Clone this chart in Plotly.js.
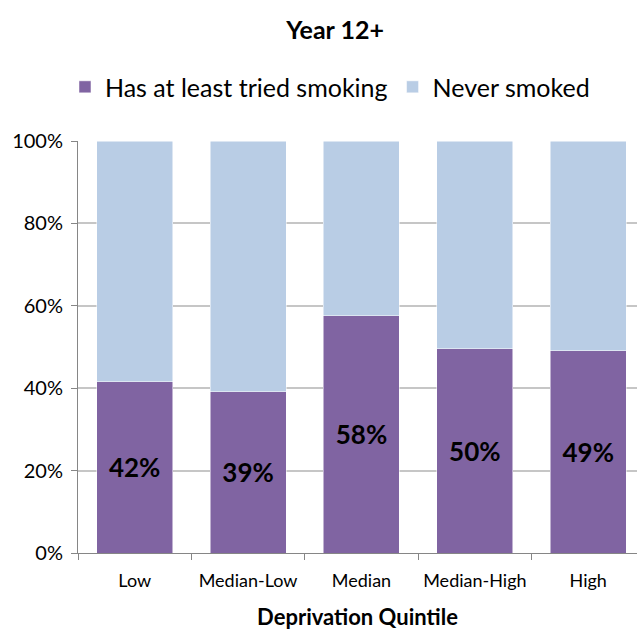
<!DOCTYPE html>
<html>
<head>
<meta charset="utf-8">
<script src="https://cdn.plot.ly/plotly-3.0.1.min.js"></script>
<style>html,body{margin:0;padding:0;background:#fff;}#chart{width:637px;height:631px;}</style>
</head>
<body>
<div id="chart"></div>
<script>
var categories = ["Low", "Median-Low", "Median", "Median-High", "High"];
var triedSmoking = [41.6, 39.2, 57.6, 49.6, 49.1];
var neverSmoked = [58.4, 60.8, 42.4, 50.4, 50.9];
var triedLabels = ["42%", "39%", "58%", "50%", "49%"];
var yTicks = [0, 20, 40, 60, 80, 100];
var yTickLabels = ["0%", "20%", "40%", "60%", "80%", "100%"];

var FONT = "Lato, 'Open Sans', sans-serif";

var traces = [
  {
    type: "bar", name: "Has at least tried smoking",
    x: categories, y: triedSmoking,
    text: triedLabels, textposition: "inside", insidetextanchor: "middle",
    textfont: {family: FONT, size: 26, color: "#000", weight: "bold"},
    marker: {color: "#8064A2", line: {color: "#ffffff", width: 0.5}},
    hoverinfo: "skip"
  },
  {
    type: "bar", name: "Never smoked",
    x: categories, y: neverSmoked,
    marker: {color: "#B9CDE5", line: {color: "#ffffff", width: 0.5}},
    hoverinfo: "skip"
  }
];

var layout = {
  width: 637, height: 631,
  margin: {l: 78, r: 0, t: 141, b: 78},
  paper_bgcolor: "#fff", plot_bgcolor: "#fff",
  font: {family: FONT, size: 18, color: "#000"},
  barmode: "stack",
  bargap: 0.33,
  showlegend: true,
  title: {text: "<b>Year 12+</b>", x: 0.526, xref: "container", xanchor: "center",
          y: 0.952, yref: "container", yanchor: "middle",
          font: {family: FONT, size: 25, color: "#000"}},
  legend: {orientation: "h", xref: "container", yref: "container",
           x: 0.102, xanchor: "left", y: 0.862, yanchor: "middle",
           font: {family: FONT, size: 25, color: "#000"},
           traceorder: "normal", itemwidth: 30},
  xaxis: {
    type: "category", range: [-0.5, 4.43],
    showline: true, linecolor: "#868686", linewidth: 1,
    ticks: "outside", tickson: "boundaries", ticklen: 6, tickcolor: "#868686",
    ticklabelstandoff: 11, tickangle: 0,
    tickfont: {family: FONT, size: 18, color: "#000"},
    showgrid: false, zeroline: false,
    title: {text: "<b>Deprivation Quintile</b>", standoff: 20,
            font: {family: FONT, size: 22, color: "#000"}}
  },
  yaxis: {
    range: [0, 100], tickmode: "array", tickvals: yTicks, ticktext: yTickLabels,
    showline: true, linecolor: "#868686", linewidth: 1,
    ticks: "outside", ticklen: 6, tickcolor: "#868686",
    ticklabelstandoff: 4,
    tickfont: {family: FONT, size: 20, color: "#000"},
    showgrid: true, gridcolor: "#c6c6c6", gridwidth: 2,
    zeroline: false
  }
};

Plotly.newPlot("chart", traces, layout, {displayModeBar: false, staticPlot: true});
</script>
</body>
</html>
